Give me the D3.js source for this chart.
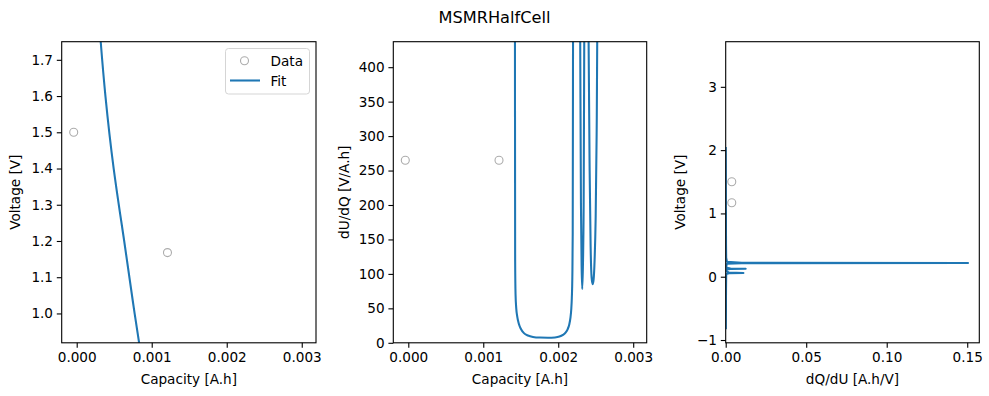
<!DOCTYPE html>
<html>
<head>
<meta charset="utf-8">
<script src="https://cdn.jsdelivr.net/npm/d3@7"></script>
<style>
body { margin: 0; background: #fff; }
svg { font-family: "DejaVu Sans", sans-serif; }
.tick text { font-size: 13.6px; fill: #000; }
</style>
</head>
<body>
<div id="chart"></div>
<script>

// measured data (capacity in A.h)
var data_capacity = [-0.00004, 0.00121];
var data_voltage = [1.5, 1.168];
var data_dudq = [265, 265];
var data_dqdu = [0.00377, 0.00377];

// fitted voltage curve
var fit_capacity = [0.000262, 0.00032, 0.000383, 0.000493, 0.000633, 0.000772, 0.00092];
var fit_voltage = [1.9, 1.75, 1.6, 1.4, 1.2, 1.0, 0.8];

// fitted dU/dQ curve
var fit_dq_capacity = [0.00141, 0.0014227, 0.0014253, 0.0014307, 0.00144, 0.0014533, 0.0014733, 0.0015027,
	0.0015427, 0.001596, 0.0016627, 0.001756, 0.0018627, 0.001956, 0.002016, 0.0020627, 0.0021,
	0.0021267, 0.002148, 0.0021627, 0.0021733, 0.0021813, 0.002188, 0.0021933, 0.0021973,
	0.00225, 0.002293, 0.002303, 0.002312, 0.00232, 0.002329, 0.002339, 0.002347,
	0.002375, 0.002405, 0.002419, 0.002432, 0.002445, 0.002459, 0.002472, 0.002485, 0.002499,
	0.002512, 0.00252, 0.00254];
var fit_dudq = [3000, 440, 120, 70, 50, 38, 28, 20,
	14, 10.5, 8.5, 7.6, 7.4, 7.8, 9, 11.5, 15,
	20, 27, 36, 48, 65, 95, 160, 440,
	1500, 440, 200, 110, 78, 110, 200, 440,
	1500, 440, 250, 140, 95, 85, 92, 120, 180,
	300, 440, 2000];

// fitted dQ/dU curve
var fit_dqdu = [0.00005, 0.0001, 0.00015, 0.0002, 0.0003, 0.0008, 0.01, 0.1505, 0.01, 0.0008, 0.0004, 0.0006,
	0.003, 0.0124, 0.003, 0.0006, 0.0005, 0.002, 0.011, 0.002, 0.0005, 0.0003, 0.0002, 0.00015, 0.0001];
var fit_dqdu_voltage = [2.05, 1.5, 1.0, 0.5, 0.3, 0.235, 0.221, 0.218, 0.214, 0.205, 0.17, 0.14,
	0.13, 0.127, 0.123, 0.115, 0.09, 0.065, 0.06, 0.055, 0.045, 0.02, -0.2, -0.5, -0.83];

// ticks
var capacity_ticks = [0, 0.001, 0.002, 0.003];
var voltage_ticks = [1.0, 1.1, 1.2, 1.3, 1.4, 1.5, 1.6, 1.7];
var dudq_ticks = [0, 50, 100, 150, 200, 250, 300, 350, 400];
var dqdu_ticks = [0, 0.05, 0.10, 0.15];
var dqdu_voltage_ticks = [-1, 0, 1, 2, 3];

var line_color = "#1f77b4";
var marker_color = "#acacac";
var top_y = 41.7, bottom_y = 342.8;

var svg = d3.select("#chart").append("svg")
	.attr("width", 989)
	.attr("height", 396);

svg.append("text")
	.attr("x", 494.5)
	.attr("y", 22.5)
	.attr("text-anchor", "middle")
	.style("font-size", "16.2px")
	.text("MSMRHalfCell");

function zip(a, b){
	var out = [];
	for (var i = 0; i < a.length; i++) out.push([a[i], b[i]]);
	return out;
}

function draw_panel(p){
	var x = d3.scaleLinear().domain(p.xdomain).range([p.left, p.right]);
	var y = d3.scaleLinear().domain(p.ydomain).range([bottom_y, top_y]);
	var g = svg.append("g");

	g.append("clipPath").attr("id", p.id)
		.append("rect")
		.attr("x", p.left).attr("y", top_y)
		.attr("width", p.right - p.left).attr("height", bottom_y - top_y);

	var plot = g.append("g").attr("clip-path", "url(#" + p.id + ")");

	// data markers
	plot.selectAll("circle")
		.data(zip(p.dx, p.dy))
		.enter().append("circle")
		.attr("cx", function(d) { return x(d[0]); })
		.attr("cy", function(d) { return y(d[1]); })
		.attr("r", 4)
		.attr("fill", "none")
		.attr("stroke", marker_color)
		.attr("stroke-width", 1.1);

	// fit line
	var valueline = d3.line()
		.x(function(d) { return x(d[0]); })
		.y(function(d) { return y(d[1]); })
		.curve(p.curve || d3.curveLinear);
	plot.append("path")
		.datum(zip(p.fx, p.fy))
		.attr("d", valueline)
		.attr("fill", "none")
		.attr("stroke", line_color)
		.attr("stroke-width", 2.08)
		.attr("stroke-linejoin", "round");

	// axes
	var xaxis = g.append("g")
		.attr("transform", "translate(0," + bottom_y + ")")
		.call(d3.axisBottom(x).tickValues(p.xticks).tickFormat(d3.format(p.xfmt)).tickSizeOuter(0).tickSize(4.9).tickPadding(4.5));
	var yaxis = g.append("g")
		.attr("transform", "translate(" + p.left + ",0)")
		.call(d3.axisLeft(y).tickValues(p.yticks).tickFormat(d3.format(p.yfmt)).tickSizeOuter(0).tickSize(4.9).tickPadding(3.8));
	[xaxis, yaxis].forEach(function(a){
		a.select(".domain").remove();
		a.selectAll(".tick line").attr("stroke", "#000").attr("stroke-width", 1.1);
		a.attr("font-family", null).attr("font-size", null);
	});

	g.append("rect")
		.attr("x", p.left).attr("y", top_y)
		.attr("width", p.right - p.left).attr("height", bottom_y - top_y)
		.attr("fill", "none")
		.attr("stroke", "#000")
		.attr("stroke-width", 1.1);

	g.append("text")
		.attr("x", (p.left + p.right) / 2)
		.attr("y", 383.5)
		.attr("text-anchor", "middle")
		.style("font-size", "13.6px")
		.text(p.xlabel);
	g.append("text")
		.attr("transform", "translate(" + p.ylabel_x + "," + ((top_y + bottom_y) / 2) + ") rotate(-90)")
		.attr("text-anchor", "middle")
		.style("font-size", "13.6px")
		.text(p.ylabel);

	return {x: x, y: y, g: g};
}

function draw_legend(){
	var lg = svg.append("g");
	lg.append("rect")
		.attr("x", 225.5).attr("y", 48.5)
		.attr("width", 84).attr("height", 45.5)
		.attr("rx", 3)
		.attr("fill", "#fff")
		.attr("fill-opacity", 0.8)
		.attr("stroke", "#d5d5d5")
		.attr("stroke-width", 1);
	lg.append("circle")
		.attr("cx", 244.5).attr("cy", 60.7).attr("r", 4)
		.attr("fill", "none").attr("stroke", marker_color).attr("stroke-width", 1.1);
	lg.append("line")
		.attr("x1", 230).attr("x2", 260).attr("y1", 80.5).attr("y2", 80.5)
		.attr("stroke", line_color).attr("stroke-width", 2.08);
	lg.append("text").attr("x", 270.5).attr("y", 65.5).style("font-size", "13.6px").text("Data");
	lg.append("text").attr("x", 270.5).attr("y", 85.5).style("font-size", "13.6px").text("Fit");
}

function init(){
	draw_panel({
		id: "clip1", left: 61.7, right: 316,
		xdomain: [-0.0002, 0.00319], ydomain: [0.919, 1.75],
		dx: data_capacity, dy: data_voltage,
		fx: fit_capacity, fy: fit_voltage, curve: d3.curveNatural,
		xticks: capacity_ticks, xfmt: ".3f",
		yticks: voltage_ticks, yfmt: ".1f",
		xlabel: "Capacity [A.h]", ylabel: "Voltage [V]", ylabel_x: 20
	});
	draw_legend();
	draw_panel({
		id: "clip2", left: 393.3, right: 646.7,
		xdomain: [-0.0002, 0.00318], ydomain: [0, 437],
		dx: data_capacity, dy: data_dudq,
		fx: fit_dq_capacity, fy: fit_dudq, curve: d3.curveMonotoneX,
		xticks: capacity_ticks, xfmt: ".3f",
		yticks: dudq_ticks, yfmt: "d",
		xlabel: "Capacity [A.h]", ylabel: "dU/dQ [V/A.h]", ylabel_x: 348.5
	});
	draw_panel({
		id: "clip3", left: 725.7, right: 979.3,
		xdomain: [0, 0.1575], ydomain: [-1.044, 3.713],
		dx: data_dqdu, dy: data_voltage,
		fx: fit_dqdu, fy: fit_dqdu_voltage,
		xticks: dqdu_ticks, xfmt: ".2f",
		yticks: dqdu_voltage_ticks, yfmt: "d",
		xlabel: "dQ/dU [A.h/V]", ylabel: "Voltage [V]", ylabel_x: 684.5
	});
}

window.onload = init;
</script>
</body>
</html>
